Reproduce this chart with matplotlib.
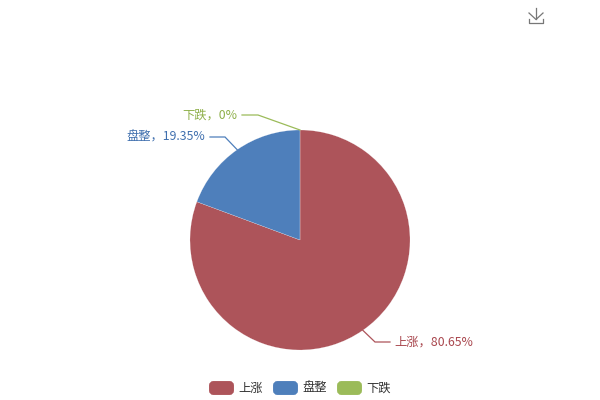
import numpy as np
import matplotlib
matplotlib.use("Agg")
import matplotlib.pyplot as plt
from matplotlib.patches import FancyBboxPatch

plt.rcParams['font.family'] = ['Noto Sans CJK SC', 'DejaVu Sans']

categories = ['上涨', '盘整', '下跌']
shares = [80.65, 19.35, 0]
share_labels = ['80.65%', '19.35%', '0%']
slice_colors = ['#AD545A', '#4E7FBB', '#9BBB59']
text_colors = ['#A9474E', '#3F6FAE', '#8FB04B']

W, H = 600, 400
CX, CY, R = 300, 240, 110
fig = plt.figure(figsize=(W / 100, H / 100), dpi=100, facecolor='white')

# pie
ax = fig.add_axes([(CX - R) / W, 1 - (CY + R) / H, 2 * R / W, 2 * R / H])
ax.pie(shares, colors=slice_colors, startangle=90, counterclock=False, radius=1,
       wedgeprops=dict(edgecolor='white', linewidth=0.12))
ax.set_xlim(-1, 1)
ax.set_ylim(-1, 1)

# overlay in pixel coordinates
ov = fig.add_axes([0, 0, 1, 1], facecolor='none')
ov.set_xlim(0, W)
ov.set_ylim(H, 0)
ov.axis('off')

# leader lines and labels, anchored on each slice's mid-angle
label_elbows = [(375, 342, 390, 394.5), (225, 137, 210, 205), (258, 115, 242, 237.5)]
cum = np.cumsum(shares)
mids = (cum - np.array(shares) / 2) / sum(shares) * 2 * np.pi
for i, name in enumerate(categories):
    sx = CX + R * np.sin(mids[i])
    sy = CY - R * np.cos(mids[i])
    ex, ey, hx, tx = label_elbows[i]
    ov.plot([sx, ex, hx], [sy, ey, ey], color=slice_colors[i], lw=0.9,
            solid_joinstyle='miter')
    ov.text(tx, ey + 0.3, f'{name}，{share_labels[i]}', color=text_colors[i], fontsize=8.85,
            ha='left' if hx > ex else 'right', va='center')

# legend
legend_x = [209, 273, 337]
for x, name, c in zip(legend_x, categories, slice_colors):
    ov.add_patch(FancyBboxPatch((x + 2, 383), 21, 10, boxstyle='round,pad=0,rounding_size=2.5',
                                mutation_aspect=1, fc=c, ec=c, lw=2.8))
    ov.text(x + 29.5, 388, name, color='#333333', fontsize=8.85, ha='left', va='center')

# download icon
icon = '#777777'
ov.plot([536, 536], [8, 19], color=icon, lw=0.9)
ov.plot([529, 536, 543], [13, 19.5, 13], color=icon, lw=0.9)
ov.plot([529, 529, 543, 543], [19, 22.5, 22.5, 19], color=icon, lw=0.9)

fig.savefig('out.png', dpi=100, facecolor='white')
